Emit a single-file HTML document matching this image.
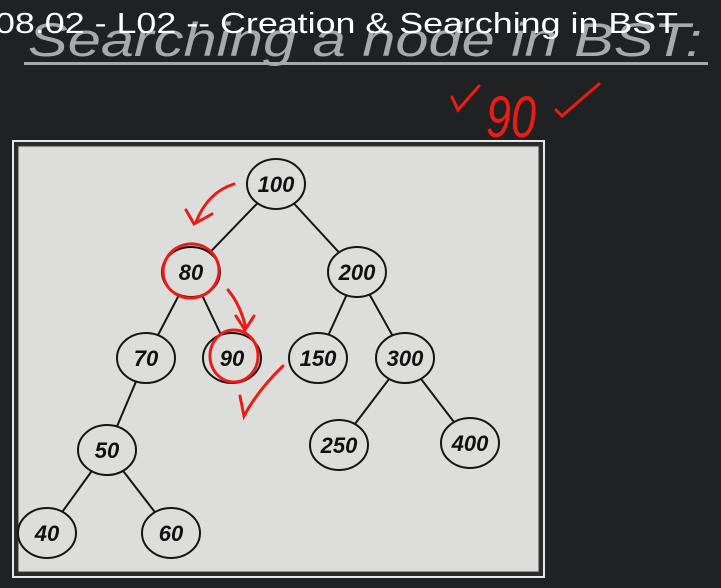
<!DOCTYPE html>
<html><head><meta charset="utf-8"><style>
html,body{margin:0;padding:0;background:#1e2022;}
svg{display:block;}
</style></head><body>
<svg width="721" height="588" viewBox="0 0 721 588" xmlns="http://www.w3.org/2000/svg">
<rect width="721" height="588" fill="#1f2123"/>
<text x="28" y="56" font-family="Liberation Sans, sans-serif" font-style="italic" font-size="47" fill="#a7a9aa" textLength="674" lengthAdjust="spacingAndGlyphs">Searching a node in BST:</text>
<rect x="24" y="62" width="684" height="3" fill="#a7a9aa"/>
<text x="-5" y="33" font-family="Liberation Sans, sans-serif" font-size="29" fill="#ffffff" textLength="683" lengthAdjust="spacingAndGlyphs">08.02 - L02 -- Creation &amp; Searching in BST</text>
<g fill="none" stroke="#f01a14" stroke-width="3" stroke-linecap="round">
<path d="M452 97 L458 110 L479 86"/>
<path d="M556 110 L562 116 L599 84"/>
</g>
<text x="486" y="137" font-family="Liberation Sans, sans-serif" font-style="italic" font-size="58" fill="#f01a14" textLength="50" lengthAdjust="spacingAndGlyphs">90</text>
<g>
<rect x="13" y="141" width="531" height="436" fill="#2a2a2a" stroke="#e6e6e6" stroke-width="2"/>
<rect x="18" y="146" width="521" height="426" fill="#dddedc" stroke="#3a3a3a" stroke-width="1"/>
<g id="edges" stroke="#151515" stroke-width="2" fill="none"></g>
<g id="nodes"></g>
</g>
<g fill="none" stroke="#f01a14" stroke-width="3" stroke-linecap="round">
<ellipse cx="191" cy="271" rx="28" ry="27" transform="rotate(-15 191 271)"/>
<ellipse cx="234" cy="356" rx="24" ry="26"/>
<path d="M234 184 Q208 192 196 222"/>
<path d="M186 210 L194 224 L212 214"/>
<path d="M228 290 Q240 304 246 328"/>
<path d="M236 316 L245 330 L254 316"/>
<path d="M283 366 Q258 390 244 416 L240 396"/>
</g>
</svg>
<script>
const keys=[100,80,200,70,90,150,300,50,250,400,40,60];
const parents=[null,100,100,80,80,200,200,70,300,300,50,50];
const cx=[276,191,357,146,232,318,405,107,339,470,47,171];
const cy=[184,272,272,358,358,358,358,450,445,443,533,533];
const NS="http://www.w3.org/2000/svg";
const eg=document.getElementById('edges'),ng=document.getElementById('nodes');
keys.forEach((k,i)=>{
 if(parents[i]!==null){const p=keys.indexOf(parents[i]);
  const l=document.createElementNS(NS,'line');
  
  
  l.setAttribute('x1',cx[p]);l.setAttribute('y1',cy[p]);l.setAttribute('x2',cx[i]);l.setAttribute('y2',cy[i]);
  eg.appendChild(l);}
});
keys.forEach((k,i)=>{
 const g=document.createElementNS(NS,'g');
 
 
 const e=document.createElementNS(NS,'ellipse');
 e.setAttribute('cx',cx[i]);e.setAttribute('cy',cy[i]);e.setAttribute('rx',29);e.setAttribute('ry',25);
 e.setAttribute('fill','#dddedc');e.setAttribute('stroke','#151515');e.setAttribute('stroke-width','2');
 const t=document.createElementNS(NS,'text');
 t.setAttribute('x',cx[i]);t.setAttribute('y',cy[i]+8);t.setAttribute('text-anchor','middle');
 t.setAttribute('font-family','Liberation Sans, sans-serif');t.setAttribute('font-style','italic');t.setAttribute('font-weight','bold');
 t.setAttribute('font-size','22');t.setAttribute('fill','#111');
 t.textContent=k;
 g.appendChild(e);g.appendChild(t);ng.appendChild(g);
});
</script>
</body></html>
